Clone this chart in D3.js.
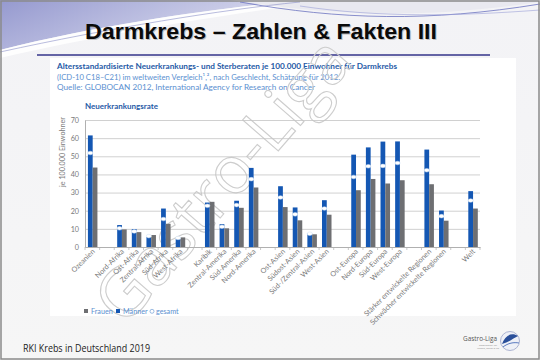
<!DOCTYPE html>
<html><head><meta charset="utf-8">
<script src="https://cdn.jsdelivr.net/npm/d3@7"></script>
<style>html,body{margin:0;padding:0;background:#fff;}svg{display:block;}</style>
</head><body>
<svg id="c" width="540" height="360"></svg>
<script>
const categories = ["Ozeanien", "", "Nord-Afrika", "Ost-Afrika", "Zentral-Afrika", "Süd-Afrika", "West-Afrika", "",
  "Karibik", "Zentral-Amerika", "Süd-Amerika", "Nord-Amerika", "",
  "Ost-Asien", "Südost-Asien", "Süd-/Zentral-Asien", "West-Asien", "",
  "Ost-Europa", "Nord-Europa", "Süd-Europa", "West-Europa", "",
  "Stärker entwickelte Regionen", "Schwächer entwickelte Regionen", "", "Welt"];
const maenner = [61.5, null, 12.1, 9.9, 5.5, 21.2, 4.6, null,
  24.5, 12.6, 25.5, 43.6, null,
  33.5, 21.8, 7.6, 25.8, null,
  50.9, 54.9, 58.1, 58.2, null,
  53.7, 20.1, null, 30.8];
const frauen = [43.8, null, 9.7, 8.2, 6.6, 12.8, 5.3, null,
  24.9, 10.3, 21.6, 32.8, null,
  22.0, 14.7, 7.0, 17.8, null,
  31.3, 37.5, 35.0, 36.8, null,
  34.6, 14.5, null, 21.2];
const gesamt = [51.8, null, 10.3, 8.6, 6.0, 15.4, 5.0, null,
  22.7, 11.2, 23.1, 37.4, null,
  27.3, 18.0, 7.3, 21.2, null,
  38.6, 44.5, 44.7, 46.3, null,
  42.3, 17.0, null, 25.6];
const yTicks = [0, 10, 20, 30, 40, 50, 60, 70];
const legendItems = ["Frauen", "Männer", "gesamt"];

const svg = d3.select("#c");
const defs = svg.append("defs");
const g1 = defs.append("linearGradient").attr("id","lav").attr("x1","0").attr("x2","1").attr("y1","0").attr("y2","0.4");
g1.append("stop").attr("offset","0").attr("stop-color","#9599cf");
g1.append("stop").attr("offset","1").attr("stop-color","#dfe0f1");
const g2 = defs.append("linearGradient").attr("id","bg").attr("x1","0").attr("x2","0").attr("y1","0").attr("y2","1");
g2.append("stop").attr("offset","0").attr("stop-color","#f3f3f6");
g2.append("stop").attr("offset","1").attr("stop-color","#f6f6f6");

// slide background
svg.append("rect").attr("x",0).attr("y",0).attr("width",540).attr("height",360).attr("fill","url(#bg)");
// top swoosh
svg.append("path").attr("d","M0,0 L300,0 C230,8 120,20 0,50 Z").attr("fill","url(#lav)");
svg.append("path").attr("d","M0,50 C120,20 230,8 300,0 L330,0 C250,12 130,28 0,58 Z").attr("fill","#ffffff").attr("opacity",0.85);
svg.append("path").attr("d","M230,0 C330,15 420,20 540,2 L540,0 Z").attr("fill","#e9e9f0");
svg.append("path").attr("d","M240,2 C340,20 430,22 540,4").attr("fill","none").attr("stroke","#6c73c0").attr("stroke-width",0.8);
svg.append("path").attr("d","M300,6 C380,18 460,16 540,10").attr("fill","none").attr("stroke","#9aa0d6").attr("stroke-width",0.6);
svg.append("path").attr("d","M0,52 C110,28 220,10 300,2").attr("fill","none").attr("stroke","#8a8fc8").attr("stroke-width",0.6);
// frame
svg.append("rect").attr("x",1).attr("y",1).attr("width",538).attr("height",358).attr("fill","none").attr("stroke","#8a8a8a").attr("stroke-width",1.5);

// title
const TF = "Liberation Sans, Arial, sans-serif";
svg.append("text").attr("x",86).attr("y",39.5)
  .attr("font-family",TF).attr("font-weight","bold").attr("font-size",21.5)
  .attr("textLength",352).attr("lengthAdjust","spacingAndGlyphs")
  .attr("fill","#9a9a9a").attr("opacity",0.6).text("Darmkrebs – Zahlen & Fakten III");
svg.append("text").attr("x",85).attr("y",38.5)
  .attr("font-family",TF).attr("font-weight","bold").attr("font-size",21.5)
  .attr("textLength",352).attr("lengthAdjust","spacingAndGlyphs")
  .attr("fill","#0a0a0a").text("Darmkrebs – Zahlen & Fakten III");
svg.append("line").attr("x1",37).attr("x2",490).attr("y1",55).attr("y2",55).attr("stroke","#35358a").attr("stroke-width",1.5);

// chart panel
svg.append("rect").attr("x",50).attr("y",58).attr("width",466).attr("height",258).attr("fill","#ffffff");

const FF = "Lato, 'Open Sans', sans-serif";
svg.append("text").attr("x",57).attr("y",69).attr("font-family",FF).attr("font-weight","bold").attr("font-size",7.6)
  .attr("fill","#1f5aa6").attr("textLength",340).attr("lengthAdjust","spacingAndGlyphs")
  .text("Altersstandardisierte Neuerkrankungs- und Sterberaten je 100.000 Einwohner für Darmkrebs");
svg.append("text").attr("x",57).attr("y",79.5).attr("font-family",FF).attr("font-size",7.6)
  .attr("fill","#5b8fd0").attr("textLength",283).attr("lengthAdjust","spacingAndGlyphs")
  .text("(ICD-10 C18–C21) im weltweiten Vergleich¹,², nach Geschlecht, Schätzung für 2012.");
svg.append("text").attr("x",57).attr("y",89.5).attr("font-family",FF).attr("font-size",7.6)
  .attr("fill","#5b8fd0").attr("textLength",258).attr("lengthAdjust","spacingAndGlyphs")
  .text("Quelle: GLOBOCAN 2012, International Agency for Research on Cancer");
svg.append("text").attr("x",85).attr("y",109).attr("font-family",FF).attr("font-weight","bold").attr("font-size",7.4)
  .attr("fill","#1f5aa6").attr("textLength",73).attr("lengthAdjust","spacingAndGlyphs").text("Neuerkrankungsrate");

// scales
const x = d3.scaleBand().domain(d3.range(categories.length)).range([85, 480]);
const y = d3.scaleLinear().domain([0, 70]).range([247, 120]);
const xs = d3.scaleBand().domain(["m","f"]).range([x.bandwidth()*0.2, x.bandwidth()*0.85]);

// watermark (behind chart marks)
svg.append("text").attr("transform","translate(240,195) rotate(-49)").attr("text-anchor","middle")
  .attr("font-family","'Open Sans', sans-serif").attr("font-size",66).attr("fill","none")
  .attr("stroke","#cdcdcd").attr("stroke-width",1.1).text("Gastro-Liga");

// gridlines
const grid = svg.append("g").attr("transform","translate(85,0)")
  .call(d3.axisLeft(y).tickValues(yTicks).tickSize(-395).tickFormat(""));
grid.select(".domain").remove();
grid.selectAll("line").attr("stroke","#c4c4c4").attr("stroke-width",0.8);

// y axis labels
const yl = svg.append("g").attr("transform","translate(85,0)")
  .call(d3.axisLeft(y).tickValues(yTicks).tickSize(0).tickPadding(6));
yl.select(".domain").attr("stroke","#b0b0b0");
yl.selectAll("text").attr("font-family",FF).attr("font-size",7.2).attr("fill","#7a7a7a");
svg.append("text").attr("transform","translate(65,152) rotate(-90)").attr("text-anchor","middle")
  .attr("font-family",FF).attr("font-size",7.2).attr("fill","#7a7a7a").text("je 100.000 Einwohner");

// bars
const idx = d3.range(categories.length).filter(i => categories[i] !== "");
svg.append("g").selectAll("rect").data(idx).join("rect")
  .attr("x", i => x(i) + xs("m")).attr("width", xs.bandwidth())
  .attr("y", i => y(maenner[i])).attr("height", i => y(0) - y(maenner[i])).attr("fill","#1457b3");
svg.append("g").selectAll("rect").data(idx).join("rect")
  .attr("x", i => x(i) + xs("f")).attr("width", xs.bandwidth())
  .attr("y", i => y(frauen[i])).attr("height", i => y(0) - y(frauen[i])).attr("fill","#6e6f72");
svg.append("g").selectAll("ellipse").data(idx).join("ellipse")
  .attr("cx", i => x(i) + xs("m") + xs.bandwidth()/2).attr("cy", i => y(gesamt[i]))
  .attr("rx", 2.6).attr("ry", 1.8).attr("fill","#ffffff").attr("stroke","#cfe0f5").attr("stroke-width",0.5);

// x axis
const xa = svg.append("g").attr("transform","translate(0,247)")
  .call(d3.axisBottom(x).tickSize(0).tickFormat(""));
xa.select(".domain").attr("stroke","#b0b0b0");
svg.append("g").selectAll("line").data(d3.range(categories.length + 1)).join("line")
  .attr("x1", i => 85 + i * x.step()).attr("x2", i => 85 + i * x.step())
  .attr("y1", 247).attr("y2", 250).attr("stroke","#b0b0b0").attr("stroke-width",0.7);
svg.append("g").selectAll("text").data(idx).join("text")
  .attr("transform", i => `translate(${x(i) + x.bandwidth()/2 + 3},252) rotate(-45)`)
  .attr("text-anchor","end").attr("font-family",FF).attr("font-size",7.2).attr("fill","#7a7a7a")
  .text(i => categories[i]);

// legend
const lg = svg.append("g").attr("font-family",FF).attr("font-size",7.2);
lg.append("rect").attr("x",84).attr("y",309).attr("width",4).attr("height",4).attr("fill","#6e6f72");
lg.append("text").attr("x",91).attr("y",313.5).attr("fill","#5b8fd0").text(legendItems[0]);
lg.append("rect").attr("x",116).attr("y",309).attr("width",4).attr("height",4).attr("fill","#1457b3");
lg.append("text").attr("x",123).attr("y",313.5).attr("fill","#5b8fd0").text(legendItems[1]);
lg.append("circle").attr("cx",152).attr("cy",311.3).attr("r",2).attr("fill","#fff").attr("stroke","#5b8fd0").attr("stroke-width",0.6);
lg.append("text").attr("x",156).attr("y",313.5).attr("fill","#5b8fd0").text(legendItems[2]);

// footer
svg.append("text").attr("x",23).attr("y",352).attr("font-family","'Open Sans', sans-serif").attr("font-size",10)
  .attr("fill","#222").attr("textLength",127).attr("lengthAdjust","spacingAndGlyphs").text("RKI Krebs in Deutschland 2019");

// logo
svg.append("text").attr("x",463).attr("y",341).attr("font-family","'Open Sans', sans-serif").attr("font-size",6.5)
  .attr("fill","#555").attr("textLength",34).attr("lengthAdjust","spacingAndGlyphs").text("Gastro-Liga");
svg.append("text").attr("x",488).attr("y",346).attr("text-anchor","middle").attr("font-family","'Open Sans', sans-serif").attr("font-size",2.5)
  .attr("fill","#888").text("Gesellschaft für");
svg.append("text").attr("x",488).attr("y",349).attr("text-anchor","middle").attr("font-family","'Open Sans', sans-serif").attr("font-size",2.5)
  .attr("fill","#888").text("Magen, Darm & Co");
svg.append("circle").attr("cx",510).attr("cy",341).attr("r",9.5).attr("fill","#eef0f7").attr("stroke","#9aa3c8").attr("stroke-width",0.8);
svg.append("path").attr("d","M502,344 C505,335 512,332 518,336 C514,338 509,342 502,344 Z").attr("fill","#2a4f9a");
svg.append("path").attr("d","M503,347 C508,343 514,342 519,343").attr("fill","none").attr("stroke","#5a7ac0").attr("stroke-width",1);
</script>
</body></html>
